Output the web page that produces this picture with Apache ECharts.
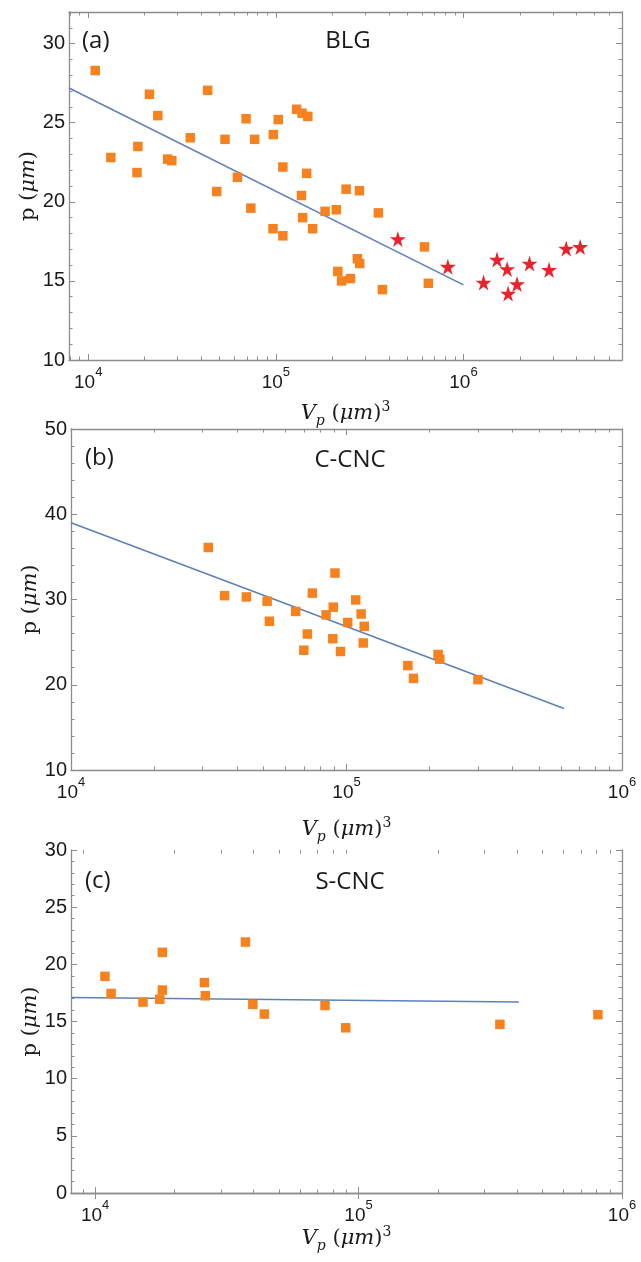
<!DOCTYPE html>
<html>
<head>
<meta charset="utf-8">
<script src="https://cdn.jsdelivr.net/npm/echarts@6/dist/echarts.min.js"></script>
<style>
html, body { margin: 0; padding: 0; background: #fff; }
#chart { width: 641px; height: 1262px; }
</style>
</head>
<body>
<div id="chart"></div>
<script>
// (a) BLG, squares
const blgVolume = [1.09e4, 1.32e4, 1.84e4, 1.82e4, 2.12e4, 2.35e4, 2.65e4, 2.79e4, 3.5e4, 4.33e4,
  4.84e4, 5.36e4, 6.24e4, 6.94e4, 7.71e4, 9.7e4, 1.03e5, 1.09e5, 1.29e5, 1.38e5,
  1.48e5, 1.46e5, 1.37e5, 2.37e5, 2.79e5, 1.39e5, 1.57e5, 1.83e5, 2.1e5, 3.52e5,
  2.14e5, 2.24e5, 2.5e5, 2.72e5, 2.8e5, 3.7e5, 6.2e5, 6.5e5, 7.36e4, 9.66e4, 1.09e5];
const blgPitch = [28.3, 22.8, 23.5, 21.85, 26.8, 25.45, 22.7, 22.6, 24.05, 27.05,
  20.65, 23.95, 21.55, 25.25, 23.95, 24.25, 25.2, 22.2, 25.85, 25.6,
  25.4, 21.8, 20.4, 20.8, 20.7, 19.0, 18.3, 19.4, 19.5, 19.3,
  15.6, 15.0, 15.15, 16.4, 16.1, 14.45, 17.15, 14.85, 19.6, 18.3, 17.85];
// (a) BLG, stars
const blgStarVolume = [4.47e5, 8.26e5, 1.28e6, 1.51e6, 1.71e6, 1.73e6, 1.93e6, 2.25e6, 2.86e6, 3.53e6, 4.19e6];
const blgStarPitch = [17.65, 15.9, 14.9, 16.35, 15.75, 14.2, 14.8, 16.1, 15.7, 17.05, 17.15];
const blgFitVolume = [7900, 1e6];
const blgFitPitch = [27.2, 14.75];

// (b) C-CNC
const ccncVolume = [3.15e4, 3.61e4, 4.33e4, 5.15e4, 5.25e4, 6.54e4, 7.52e4, 7.21e4, 8.43e4, 8.95e4,
  9.08e4, 8.92e4, 1.01e5, 1.08e5, 1.13e5, 1.16e5, 1.15e5, 7.0e4, 9.51e4, 2.15e5,
  2.18e5, 1.67e5, 1.75e5, 3.0e5];
const ccncPitch = [36.1, 30.45, 30.3, 29.8, 27.45, 28.6, 30.75, 25.95, 28.2, 29.1,
  33.1, 25.4, 27.3, 29.95, 28.3, 26.85, 24.9, 24.05, 23.9, 23.55,
  23.0, 22.25, 20.75, 20.6];
const ccncFitVolume = [1e4, 6.16e5];
const ccncFitPitch = [39.0, 17.2];

// (c) S-CNC
const scncVolume = [1.09e4, 1.15e4, 1.52e4, 1.76e4, 1.8e4, 1.8e4, 2.6e4, 2.62e4, 3.72e4, 3.97e4,
  4.39e4, 7.46e4, 8.94e4, 3.44e5, 8.1e5];
const scncPitch = [18.95, 17.45, 16.7, 16.95, 17.75, 21.05, 18.4, 17.25, 21.95, 16.5,
  15.65, 16.4, 14.45, 14.75, 15.6];
const scncFitVolume = [8100, 4.06e5];
const scncFitPitch = [17.1, 16.7];

// tick labels
const xTickExponents = [4, 5, 6];
const minorMultipliers = [2, 3, 4, 5, 6, 7, 8, 9];
const blgYTicks = [10, 15, 20, 25, 30];
const ccncYTicks = [10, 20, 30, 40, 50];
const scncYTicks = [0, 5, 10, 15, 20, 25, 30];

const panelTags = ['(a)', '(b)', '(c)'];
const panelTitles = ['BLG', 'C-CNC', 'S-CNC'];

const frameColor = '#8c8c8c';
const textColor = '#1a1a1a';
const squareColor = '#f5821f';
const starColor = '#e8232c';
const fitColor = '#5e81b5';
const starPath = 'path://M50,0 L61,35 L98,35 L68,57 L79,91 L50,70 L21,91 L32,57 L2,35 L39,35 Z';

const panels = [
  { grid: { left: 69, top: 12, width: 553, height: 348 }, xMin: 7900, xMax: 7.0e6,
    yMin: 10, yMax: 32, yTicks: blgYTicks, yMinorStep: 1, xGap: 40, yGap: 30,
    tagPos: [82, 41], titlePos: [348, 41],
    scatter: [[blgVolume, blgPitch, 'rect', 9.5, squareColor], [blgStarVolume, blgStarPitch, starPath, 16, starColor]],
    fit: [blgFitVolume, blgFitPitch] },
  { grid: { left: 71, top: 429, width: 551, height: 341 }, xMin: 1e4, xMax: 1e6,
    yMin: 10, yMax: 50, yTicks: ccncYTicks, yMinorStep: 2, xGap: 46, yGap: 30,
    tagPos: [85, 458], titlePos: [350, 460],
    scatter: [[ccncVolume, ccncPitch, 'rect', 9.5, squareColor]],
    fit: [ccncFitVolume, ccncFitPitch] },
  { grid: { left: 71, top: 850, width: 551, height: 343 }, xMin: 8100, xMax: 1e6,
    yMin: 0, yMax: 30, yTicks: scncYTicks, yMinorStep: 1, xGap: 32, yGap: 30,
    tagPos: [85, 881], titlePos: [350, 882],
    scatter: [[scncVolume, scncPitch, 'rect', 9.5, squareColor]],
    fit: [scncFitVolume, scncFitPitch] }
];

function pairs(xs, ys) { return xs.map((x, i) => [x, ys[i]]); }

function minorLogTicks(lo, hi) {
  const out = [];
  for (let e = Math.floor(lo); e <= Math.ceil(hi); e++) {
    minorMultipliers.forEach(m => {
      const v = e + Math.log10(m);
      if (v > lo && v < hi) out.push(v);
    });
  }
  return out;
}

function minorLinTicks(min, max, step, majors) {
  const out = [];
  for (let v = min; v <= max + 1e-9; v += step) {
    if (majors.indexOf(v) < 0) out.push(v);
  }
  return out;
}

const grids = [], xAxes = [], yAxes = [], series = [], graphics = [];

panels.forEach((p, g) => {
  grids.push(Object.assign({ containLabel: false }, p.grid));
  const lo = Math.log10(p.xMin), hi = Math.log10(p.xMax);
  const xMinor = minorLogTicks(lo, hi);
  const yMinor = minorLinTicks(p.yMin, p.yMax, p.yMinorStep, p.yTicks);
  const xBase = xAxes.length, yBase = yAxes.length;

  // data axis (log), hidden
  xAxes.push({ type: 'log', gridIndex: g, position: 'bottom', min: p.xMin, max: p.xMax, logBase: 10, show: false });
  // tick axes, log space
  const xTick = (pos, values, len, withLabel, withLine) => ({
    type: 'value', gridIndex: g, position: pos, min: lo, max: hi,
    axisLine: { show: withLine, lineStyle: { color: frameColor, width: 1.3 } },
    axisTick: { show: true, inside: true, length: len, customValues: values, lineStyle: { color: frameColor, width: 1 } },
    axisLabel: withLabel ? {
      show: true, customValues: xTickExponents, margin: 6,
      formatter: v => '{b|10}{s|' + Math.round(v) + '}',
      rich: {
        b: { fontFamily: 'Liberation Sans', fontSize: 19, color: textColor, lineHeight: 26, verticalAlign: 'bottom' },
        s: { fontFamily: 'Liberation Sans', fontSize: 13, color: textColor, lineHeight: 14, verticalAlign: 'top' }
      }
    } : { show: false },
    splitLine: { show: false }
  });
  const xMajorAxis = xTick('bottom', xTickExponents, 6, true, true);
  xMajorAxis.name = '{v|V}{sub|p}{n| (}{v|μm}{n|)}{sup|3}';
  xMajorAxis.nameLocation = 'middle';
  xMajorAxis.nameGap = p.xGap;
  xMajorAxis.nameMoveOverlap = false;
  xMajorAxis.nameTextStyle = {
    rich: {
      v: { fontFamily: 'DejaVu Serif', fontStyle: 'italic', fontSize: 21, color: textColor, lineHeight: 28 },
      n: { fontFamily: 'DejaVu Serif', fontSize: 21, color: textColor, lineHeight: 28 },
      sub: { fontFamily: 'DejaVu Serif', fontStyle: 'italic', fontSize: 14, color: textColor, lineHeight: 16, verticalAlign: 'bottom' },
      sup: { fontFamily: 'DejaVu Serif', fontSize: 14, color: textColor, lineHeight: 16, verticalAlign: 'top' }
    }
  };
  xAxes.push(xMajorAxis);
  xAxes.push(xTick('bottom', xMinor, 3.5, false, false));
  xAxes.push(xTick('top', xTickExponents, 6, false, true));
  xAxes.push(xTick('top', xMinor, 3.5, false, false));

  const yTick = (pos, values, len, withLabel, withLine) => ({
    type: 'value', gridIndex: g, position: pos, min: p.yMin, max: p.yMax,
    axisLine: { show: withLine, lineStyle: { color: frameColor, width: 1.3 } },
    axisTick: { show: true, inside: true, length: len, customValues: values, lineStyle: { color: frameColor, width: 1 } },
    axisLabel: withLabel ? {
      show: true, customValues: p.yTicks, margin: 4,
      fontFamily: 'Liberation Sans', fontSize: 20, color: textColor
    } : { show: false },
    splitLine: { show: false }
  });
  const yMajorAxis = yTick('left', p.yTicks, 6, true, true);
  yMajorAxis.name = '{n|p (}{v|μm}{n|)}';
  yMajorAxis.nameLocation = 'middle';
  yMajorAxis.nameRotate = 90;
  yMajorAxis.nameGap = p.yGap;
  yMajorAxis.nameMoveOverlap = false;
  yMajorAxis.nameTextStyle = {
    rich: {
      v: { fontFamily: 'DejaVu Serif', fontStyle: 'italic', fontSize: 21, color: textColor },
      n: { fontFamily: 'DejaVu Serif', fontSize: 21, color: textColor }
    }
  };
  yAxes.push(yMajorAxis);
  yAxes.push(yTick('left', yMinor, 3.5, false, false));
  yAxes.push(yTick('right', p.yTicks, 6, false, true));
  yAxes.push(yTick('right', yMinor, 3.5, false, false));

  series.push({
    type: 'line', xAxisIndex: xBase, yAxisIndex: yBase, data: pairs(p.fit[0], p.fit[1]),
    showSymbol: false, symbol: 'none', lineStyle: { color: fitColor, width: 1.6 }, z: 2, silent: true
  });
  p.scatter.forEach(s => {
    series.push({
      type: 'scatter', xAxisIndex: xBase, yAxisIndex: yBase, data: pairs(s[0], s[1]),
      symbol: s[2], symbolSize: s[3], itemStyle: { color: s[4], opacity: 1 }, z: 3, silent: true
    });
  });

  graphics.push({
    type: 'text', x: p.tagPos[0], y: p.tagPos[1],
    style: { text: panelTags[g], font: '24px "Open Sans"', fill: textColor, textAlign: 'left', textVerticalAlign: 'middle' }
  });
  graphics.push({
    type: 'text', x: p.titlePos[0], y: p.titlePos[1],
    style: { text: panelTitles[g], font: '24px "Open Sans"', fill: textColor, textAlign: 'center', textVerticalAlign: 'middle' }
  });
});

const chart = echarts.init(document.getElementById('chart'));
chart.setOption({
  animation: false,
  backgroundColor: '#ffffff',
  grid: grids,
  xAxis: xAxes,
  yAxis: yAxes,
  series: series,
  graphic: graphics
});
</script>
</body>
</html>
